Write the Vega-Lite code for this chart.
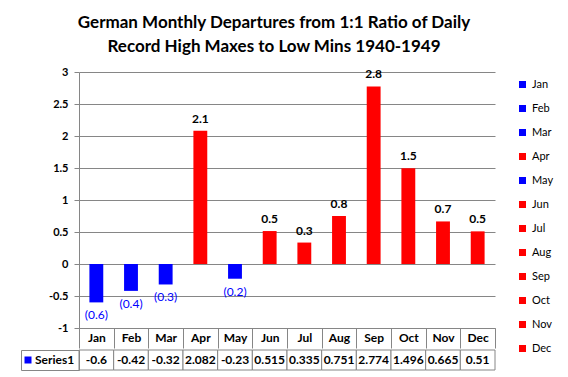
{
  "$schema": "https://vega.github.io/schema/vega-lite/v6.json",
  "background": "white",
  "padding": {"left": 20, "top": 14, "right": 5, "bottom": 5},
  "config": {"font": "Lato", "view": {"stroke": null}},
  "data": {"values": [
    {"month": "Jan", "value": -0.6},
    {"month": "Feb", "value": -0.42},
    {"month": "Mar", "value": -0.32},
    {"month": "Apr", "value": 2.082},
    {"month": "May", "value": -0.23},
    {"month": "Jun", "value": 0.515},
    {"month": "Jul", "value": 0.335},
    {"month": "Aug", "value": 0.751},
    {"month": "Sep", "value": 2.774},
    {"month": "Oct", "value": 1.496},
    {"month": "Nov", "value": 0.665},
    {"month": "Dec", "value": 0.51}
  ]},
  "spacing": 0,
  "resolve": {"scale": {"color": "shared", "fill": "independent"}, "legend": {"color": "shared", "fill": "independent"}},
  "vconcat": [
    {
      "width": 416,
      "height": 256,
      "title": {"text": ["German Monthly Departures from 1:1 Ratio of Daily", "Record High Maxes to Low Mins 1940-1949"], "fontSize": 17, "fontWeight": "bold", "lineHeight": 24, "dx": -13, "offset": 10, "color": "black", "font": "Lato"},
      "encoding": {
        "x": {"field": "month", "type": "nominal", "sort": null, "scale": {"paddingInner": 0, "paddingOuter": 0},
          "axis": {"title": null, "orient": "bottom", "labelAngle": 0, "tickBand": "extent", "tickSize": 20, "tickColor": "#868686", "domainColor": "#868686", "labelPadding": -16, "labelBaseline": "top", "labelFontWeight": "bold", "labelFontSize": 12, "labelColor": "black", "labelOverlap": false, "labelFont": "Lato"}},
        "y": {"field": "value", "type": "quantitative", "scale": {"domain": [-1, 3], "nice": false},
          "axis": {"title": null, "values": [-1, -0.5, 0, 0.5, 1, 1.5, 2, 2.5, 3], "labelExpr": "toString(datum.value)", "grid": true, "gridColor": "#868686", "gridOpacity": 1, "domainColor": "#868686", "tickColor": "#868686", "tickSize": 5, "labelFontWeight": "bold", "labelFontSize": 11, "labelColor": "black", "labelPadding": 6, "labelFlush": false, "labelOverlap": false, "labelFont": "Lato"}}
      },
      "layer": [
        {
          "mark": {"type": "bar", "width": {"band": 0.4}},
          "encoding": {
            "color": {"field": "month", "type": "nominal", "sort": null,
              "scale": {"domain": ["Jan", "Feb", "Mar", "Apr", "May", "Jun", "Jul", "Aug", "Sep", "Oct", "Nov", "Dec"], "range": ["#0000FF", "#0000FF", "#0000FF", "#FF0000", "#0000FF", "#FF0000", "#FF0000", "#FF0000", "#FF0000", "#FF0000", "#FF0000", "#FF0000"]},
              "legend": {"title": null, "orient": "none", "legendX": 438, "legendY": 7, "padding": 0, "symbolType": "square", "symbolSize": 49, "symbolStrokeWidth": 0, "labelFontSize": 11, "labelFont": "Lato", "labelOffset": 4, "rowPadding": 12, "labelColor": "black"}}
          }
        },
        {
          "transform": [{"filter": "datum.value >= 0"}],
          "mark": {"type": "text", "baseline": "alphabetic", "dy": -8, "fontWeight": "bold", "fontSize": 12, "color": "black"},
          "encoding": {
            "text": {"field": "value", "type": "quantitative", "format": "(.1f"}
          }
        },
        {
          "transform": [{"filter": "datum.value < 0"}],
          "mark": {"type": "text", "baseline": "top", "dy": 8, "fontSize": 12, "color": "#0000FF"},
          "encoding": {
            "text": {"field": "value", "type": "quantitative", "format": "(.1f"}
          }
        }
      ]
    },
    {
      "width": 416,
      "height": 20,
      "encoding": {"x": {"field": "month", "type": "nominal", "sort": null, "scale": {"paddingInner": 0, "paddingOuter": 0}, "axis": null}},
      "layer": [
        {
          "mark": {"type": "rect", "fill": "white", "stroke": "#868686", "strokeWidth": 1}
        },
        {
          "mark": {"type": "text", "fontWeight": "bold", "fontSize": 12, "color": "black"},
          "encoding": {"text": {"field": "value", "type": "nominal"}}
        },
        {
          "mark": {"type": "square", "opacity": 0, "size": 1},
          "encoding": {
            "fill": {"datum": "Series1", "scale": {"range": ["#0000FF"]},
              "legend": {"title": null, "orient": "left", "offset": 0, "padding": 4, "strokeColor": "#868686", "symbolType": "square", "symbolSize": 49, "symbolOpacity": 1, "symbolStrokeWidth": 0, "symbolOffset": -3, "labelFontSize": 12, "labelFontWeight": "bold", "labelFont": "Lato", "labelOffset": 1, "labelColor": "black"}}
          }
        }
      ]
    }
  ]
}
